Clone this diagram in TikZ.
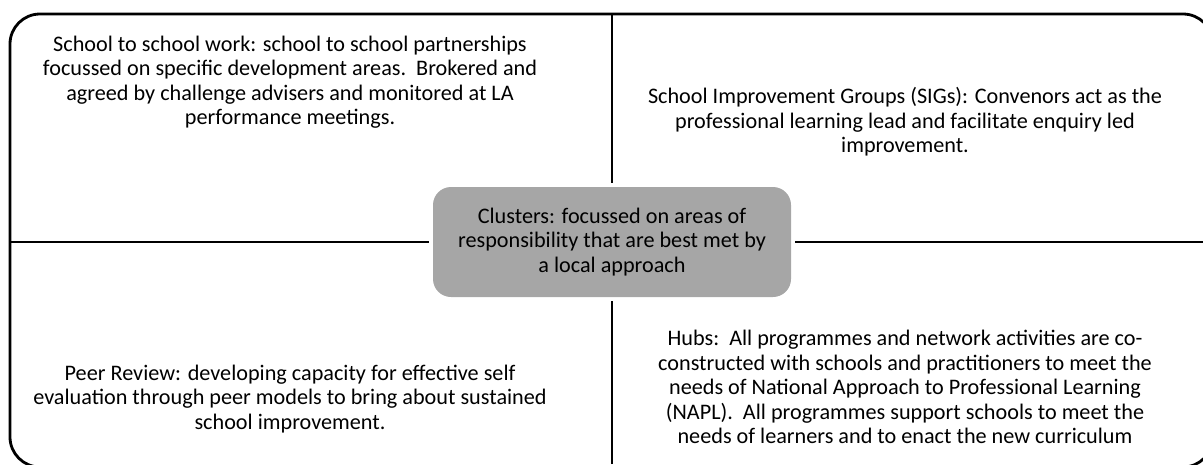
\documentclass[tikz,border=0pt]{standalone}
\usepackage{fontspec}
\setmainfont{Carlito}
\begin{document}
\begin{tikzpicture}[x=1pt,y=-1pt,
  frame/.style={line width=2.8pt, rounded corners=30pt},
  divider/.style={line width=2.8pt},
  hub/.style={fill=black!35, rounded corners=18pt, minimum width=358pt,
    minimum height=110pt, align=center, inner sep=0pt},
  quad/.style={align=center, inner sep=0pt},
  txt/.style={font=\fontsize{22.2}{24.5}\selectfont}]
  \useasboundingbox (0,0) rectangle (1203,464);
  % outer frame, partly running off the page
  \begin{scope}
    \clip (0,0) rectangle (1203,464);
    \draw[frame] (10,14) rectangle (1213,467);
  \end{scope}
  % frame attachment points for the dividers
  \coordinate (ftop) at (612,14);
  \coordinate (fbot) at (612,464);
  \coordinate (fleft) at (10,242);
  \coordinate (fright) at (1203,242);
  % central box
  \node[hub, txt] (clusters) at (612,242)
    {Clusters: focussed on areas of\\responsibility that are best met by\\a local approach};
  % dividers between the four quadrants
  \draw[divider, shorten >=4pt] (ftop) -- (clusters.north);
  \draw[divider, shorten >=4pt] (fbot) -- (clusters.south);
  \draw[divider, shorten >=4pt] (fleft) -- (clusters.west);
  \draw[divider, shorten >=4pt] (fright) -- (clusters.east);
  % quadrant texts
  \node[quad, txt] (s2s) at (290,82)
    {School to school work: school to school partnerships\\
     focussed on specific development areas.\ \ Brokered and\\
     agreed by challenge advisers and monitored at LA\\
     performance meetings.};
  \node[quad, txt] (sig) at (905,122)
    {School Improvement Groups (SIGs): Convenors act as the\\
     professional learning lead and facilitate enquiry led\\
     improvement.};
  \node[quad, txt] (peer) at (290,399)
    {Peer Review: developing capacity for effective self\\
     evaluation through peer models to bring about sustained\\
     school improvement.};
  \node[quad, txt] (hubs) at (905,387)
    {Hubs:\ \ All programmes and network activities are co-\\
     constructed with schools and practitioners to meet the\\
     needs of National Approach to Professional Learning\\
     (NAPL).\ \ All programmes support schools to meet the\\
     needs of learners and to enact the new curriculum};
\end{tikzpicture}
\end{document}
